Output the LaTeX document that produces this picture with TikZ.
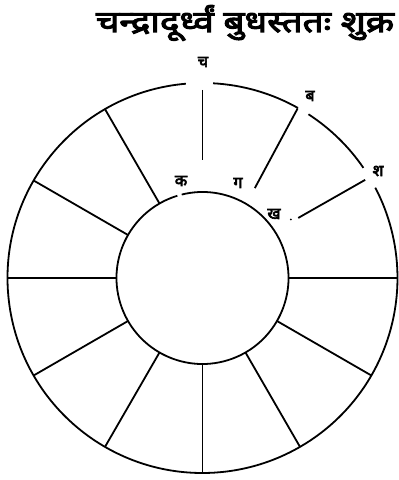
\documentclass[tikz,border=0pt]{standalone}
\usepackage{fontspec}
\newfontfamily\deva[Script=Devanagari,FakeBold=4]{Noto Sans}
\newfontfamily\devat[Script=Devanagari,FakeBold=3.5,FakeStretch=1.23]{Noto Sans}
\begin{document}
\begin{tikzpicture}[x=1pt,y=1pt,line width=1.8pt,
  lbl/.style={font=\deva\fontsize{16}{16}\selectfont,inner sep=0pt},
  ttl/.style={font=\devat\fontsize{30}{30}\selectfont,inner sep=0pt,anchor=base west}]
\useasboundingbox (0,0) rectangle (399,480);
\coordinate (C) at (202.5,202);
% outer circle with gaps
\draw ([shift={(60.7:195)}]C) arc[start angle=60.7,end angle=86.9,radius=195];
\draw ([shift={(34.4:195)}]C) arc[start angle=34.4,end angle=57.1,radius=195];
\draw ([shift={(94.9:195)}]C) arc[start angle=94.9,end angle=387.6,radius=195];
% inner circle with small gap
\draw ([shift={(107:86)}]C) arc[start angle=107,end angle=464,radius=86];
% spokes
\foreach \a in {0,120,150,180,210,240,270,300,330}{
  \coordinate (o\a) at ([shift={(\a:195)}]C);
  \coordinate (i\a) at ([shift={(\a:86)}]C);
  \draw (o\a) -- (i\a);
}
\coordinate (o90) at ([shift={(90:188)}]C);
\coordinate (i90) at ([shift={(90:118)}]C);
\draw (o90) -- (i90);
\coordinate (o60) at ([shift={(60.7:194.5)}]C);
\coordinate (i60) at ([shift={(59.8:104)}]C);
\draw (o60) -- (i60);
\coordinate (o30) at ([shift={(31.1:190)}]C);
\coordinate (i30) at ([shift={(32.1:113)}]C);
\draw (o30) -- (i30);
\coordinate (d30) at ([shift={(33.5:106)}]C);
\fill (d30) circle (1pt);
% labels
\node[lbl] (lc) at (203,418) {च};
\node[lbl] (lb) at (310,384) {ब};
\node[lbl] (ls) at (378,309) {श};
\node[lbl] (lk) at (181,299) {क};
\node[lbl] (lg) at (238,297) {ग};
\node[lbl] (lkh) at (274,266) {ख};
% title
\node[ttl] (title) at (95,448) {चन्द्रादूर्ध्वं बुधस्ततः शुक्र};
\end{tikzpicture}
\end{document}
